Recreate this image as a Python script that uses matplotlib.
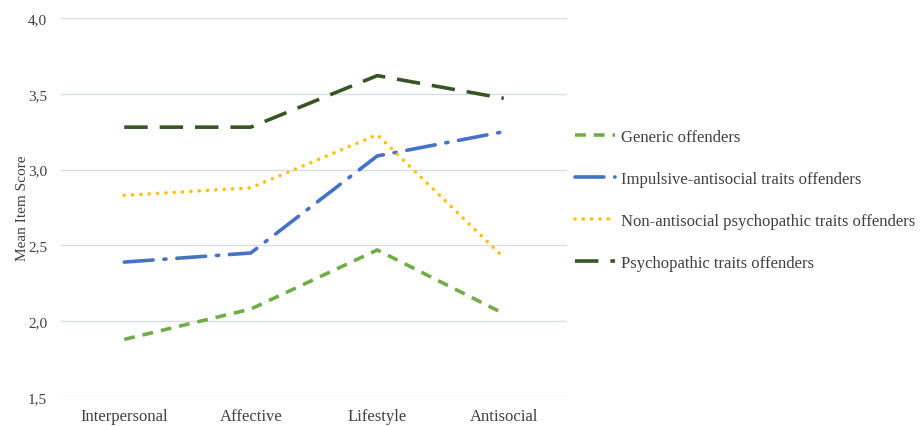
import matplotlib
matplotlib.use("Agg")
import matplotlib.pyplot as plt
from matplotlib.ticker import FixedLocator, FuncFormatter

categories = ["Interpersonal", "Affective", "Lifestyle", "Antisocial"]
generic = [1.88, 2.08, 2.47, 2.05]
impulsive = [2.39, 2.45, 3.09, 3.25]
non_antisocial = [2.83, 2.88, 3.23, 2.42]
psychopathic = [3.28, 3.28, 3.62, 3.47]
series_names = ["Generic offenders", "Impulsive-antisocial traits offenders",
                "Non-antisocial psychopathic traits offenders", "Psychopathic traits offenders"]
y_ticks = [1.5, 2.0, 2.5, 3.0, 3.5, 4.0]

plt.rcParams['font.family'] = ['Liberation Serif', 'DejaVu Serif']

fig = plt.figure(figsize=(9.21, 4.27), dpi=100)
ax = fig.add_axes([61/921, 1-398/427, (567-61)/921, (398-19)/427])

x = list(range(len(categories)))
lw = 2.6
ax.plot(x, generic, color="#70AD47", lw=lw, linestyle=(0, (3.0, 2.2)), label=series_names[0])
ax.plot(x, impulsive, color="#4472C4", lw=lw, linestyle=(0, (8, 3, 0.6, 3)),
        dash_capstyle='round', label=series_names[1])
ax.plot(x, non_antisocial, color="#FFC000", lw=lw, linestyle=(0, (0.01, 2.3)),
        dash_capstyle='round', label=series_names[2])
ax.plot(x, psychopathic, color="#375623", lw=lw, linestyle=(0, (6.5, 3.3)), label=series_names[3])

ax.set_xlim(-0.5, 3.5)
ax.set_ylim(1.5, 4.0)
ax.yaxis.set_major_locator(FixedLocator(y_ticks))
ax.yaxis.set_major_formatter(FuncFormatter(lambda v, p: f"{v:.1f}".replace(".", ",")))
ax.set_xticks(x)
ax.set_xticklabels(categories, fontsize=12, color="#404040")
ax.tick_params(axis='y', labelsize=11, colors="#404040", length=0, pad=10)
ax.tick_params(axis='x', length=0, pad=8)
ax.grid(axis='y', color="#D9DCE6", lw=1)
ax.set_axisbelow(True)
for s in ax.spines.values():
    s.set_visible(False)
ax.set_ylabel("Mean Item Score", fontsize=11, color="#404040", labelpad=-1)

leg = ax.legend(loc='center left', bbox_to_anchor=((575-61)/506, 0.521), frameon=False,
                fontsize=12, labelspacing=1.56, handlelength=2.4, handletextpad=0.36,
                borderaxespad=0, borderpad=0, labelcolor="#404040")

fig.savefig("out.png", dpi=100)
